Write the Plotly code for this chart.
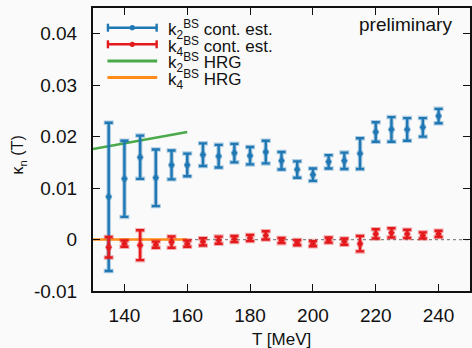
import plotly.graph_objects as go

# ---- data ----
T = [135, 140, 145, 150, 155, 160, 165, 170, 175, 180, 185, 190, 195, 200,
     205, 210, 215, 220, 225, 230, 235, 240]
k2_val = [0.0083, 0.0118, 0.0160, 0.0120, 0.0145, 0.0145, 0.0165, 0.0162, 0.0168, 0.0163,
          0.0170, 0.0153, 0.0136, 0.0126, 0.0151, 0.0153, 0.0167, 0.0209, 0.0214, 0.0214,
          0.0218, 0.0240]
k2_err = [0.0144, 0.0074, 0.0042, 0.0055, 0.0028, 0.0022, 0.0022, 0.0022, 0.0018, 0.0017,
          0.0022, 0.0017, 0.0016, 0.0012, 0.0013, 0.0016, 0.0030, 0.0019, 0.0024, 0.0022,
          0.0018, 0.0014]
k4_val = [-0.0015, -0.0008, -0.0011, -0.0010, -0.0005, -0.0008, -0.00045, -0.00013, 0.0001,
          0.0003, 0.0008, -0.0002, -0.0006, -0.0008, -0.0001, -0.0004, -0.0008, 0.0011,
          0.0013, 0.0011, 0.0008, 0.0011]
k4_err = [0.0020, 0.0006, 0.0029, 0.0006, 0.0011, 0.0006, 0.0007, 0.0007, 0.0006, 0.0006,
          0.0008, 0.0005, 0.0005, 0.0005, 0.0005, 0.0006, 0.0015, 0.0009, 0.0009, 0.0008,
          0.0006, 0.0006]
T_hrg = [130, 140, 150, 160]
k2_hrg = [0.0176, 0.0187, 0.0198, 0.0209]
k4_hrg = [0.0, 0.0, 0.0, 0.0]
T_zero = [130, 250]
zero_line = [0, 0]

x_ticks = [140, 160, 180, 200, 220, 240]
y_ticks = [-0.01, 0, 0.01, 0.02, 0.03, 0.04]
y_tick_text = ["-0.01", "0", "0.01", "0.02", "0.03", "0.04"]

legend_labels = ["k<sub>2</sub><sup>BS</sup> cont. est.",
                 "k<sub>4</sub><sup>BS</sup> cont. est.",
                 "k<sub>2</sub><sup>BS</sup> HRG",
                 "k<sub>4</sub><sup>BS</sup> HRG"]

BLUE = "#1f77b4"
RED = "#e3191c"
GREEN = "#4aa94a"
ORANGE = "#ff8c1a"
FONT = "Liberation Sans, Arial, sans-serif"

fig = go.Figure()

# dotted zero line
fig.add_trace(go.Scatter(x=T_zero, y=zero_line, mode="lines",
                         line=dict(color="#888888", width=1.2, dash="dot"),
                         showlegend=False, hoverinfo="skip"))
# HRG lines
fig.add_trace(go.Scatter(x=T_hrg, y=k4_hrg, mode="lines",
                         line=dict(color=ORANGE, width=2.6), showlegend=False))
fig.add_trace(go.Scatter(x=T_hrg, y=k2_hrg, mode="lines",
                         line=dict(color=GREEN, width=2.6), showlegend=False))


def add_err(vals, errs, color, halo):
    # halo
    fig.add_trace(go.Scatter(x=T, y=vals, mode="markers",
                             marker=dict(color=halo, size=7),
                             error_y=dict(type="data", array=errs, color=halo,
                                          thickness=4.5, width=5),
                             showlegend=False, hoverinfo="skip"))
    fig.add_trace(go.Scatter(x=T, y=vals, mode="markers",
                             marker=dict(color=color, size=5, symbol="diamond"),
                             error_y=dict(type="data", array=errs, color=color,
                                          thickness=2.4, width=4),
                             showlegend=False))


add_err(k2_val, k2_err, BLUE, "rgba(31,119,180,0.35)")
add_err(k4_val, k4_err, RED, "rgba(227,25,28,0.35)")

# ---- manual legend ----
PW, PH = 379.0, 283.0
L, B = 93.0, 291.0
def px(x):
    return (x - L) / PW
def py(y):
    return (B - y) / PH

rows_y = [27.7, 44.3, 60.9, 77.5]
colors = [BLUE, RED, GREEN, ORANGE]
shapes = []
annotations = []
for i, (ry, c, lab) in enumerate(zip(rows_y, colors, legend_labels)):
    shapes.append(dict(type="line", xref="paper", yref="paper",
                       x0=px(107.5), x1=px(157.5), y0=py(ry), y1=py(ry),
                       line=dict(color=c, width=2.6 if i < 2 else 3)))
    if i < 2:
        for xx in (108, 157):
            shapes.append(dict(type="line", xref="paper", yref="paper",
                               x0=px(xx), x1=px(xx), y0=py(ry - 4), y1=py(ry + 4),
                               line=dict(color=c, width=2.4)))
        shapes.append(dict(type="circle", xref="paper", yref="paper",
                           x0=px(132.5 - 2.6), x1=px(132.5 + 2.6),
                           y0=py(ry + 2.6), y1=py(ry - 2.6),
                           fillcolor=c, line=dict(color=c, width=0)))
    annotations.append(dict(text=lab, xref="paper", yref="paper",
                            x=px(166), y=py(ry + 2), xanchor="left", yanchor="middle",
                            showarrow=False,
                            font=dict(family=FONT, size=17, color="#111111")))

annotations.append(dict(text="preliminary", xref="paper", yref="paper",
                        x=px(456), y=py(25), xanchor="right", yanchor="middle",
                        showarrow=False, font=dict(family=FONT, size=19, color="#111111")))
annotations.append(dict(text="κ<sub>n</sub> (T)", xref="paper", yref="paper",
                        x=px(18), y=py(155), xanchor="center", yanchor="middle",
                        textangle=-90, showarrow=False,
                        font=dict(family=FONT, size=16, color="#111111")))
annotations.append(dict(text="T [MeV]", xref="paper", yref="paper",
                        x=px(282.5), y=py(339), xanchor="center", yanchor="middle",
                        showarrow=False, font=dict(family=FONT, size=17, color="#111111")))

fig.update_layout(
    width=472, height=348,
    margin=dict(l=93, r=0, t=8, b=57),
    paper_bgcolor="#fafafa", plot_bgcolor="#fafafa",
    showlegend=False,
    shapes=shapes, annotations=annotations,
    font=dict(family=FONT, size=19, color="#111111"),
)
fig.update_xaxes(range=[130, 250], tickvals=x_ticks, ticks="inside", ticklen=7,
                 tickwidth=1, tickcolor="#111111", showline=True, linewidth=2,
                 linecolor="#111111", mirror="ticks", showgrid=False, zeroline=False,
                 tickfont=dict(family=FONT, size=19, color="#111111"),
                 ticklabelstandoff=6)
fig.update_yaxes(range=[-0.01, 0.045], tickvals=y_ticks, ticktext=y_tick_text,
                 ticks="inside", ticklen=7, tickwidth=1, tickcolor="#111111",
                 showline=True, linewidth=2, linecolor="#111111", mirror="ticks",
                 showgrid=False, zeroline=False,
                 tickfont=dict(family=FONT, size=19, color="#111111"),
                 ticklabelstandoff=10)

fig.write_html("out.html")
